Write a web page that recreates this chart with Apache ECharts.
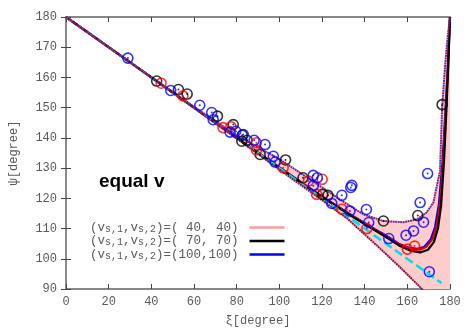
<!DOCTYPE html>
<html>
<head>
<meta charset="utf-8">
<script src="https://cdn.jsdelivr.net/npm/echarts@6/dist/echarts.min.js"></script>
<style>
  html, body { margin: 0; padding: 0; background: #fff; }
  #chart { width: 474px; height: 332px; }
</style>
</head>
<body>
<div id="chart"></div>
<script>
// ---- data (xi, psi in degrees) ----
const straightLine = [[0, 180], [176, 92]];

const curve40 = [[0, 180], [40, 160], [80, 140], [100, 130.2], [120, 120.5], [135, 113.8], [145, 109.5],
  [150, 107.5], [156.5, 104.6], [161.5, 103.3], [166, 103], [169, 104], [171.8, 106.5], [173.8, 111],
  [175.4, 118.5], [176.9, 133], [177.9, 147], [179.1, 164], [180, 180]];
const curve70 = [[0, 180], [40, 160], [80, 140], [100, 130.1], [120, 120.4], [135, 113.6], [145, 109.3],
  [150, 107.2], [156.6, 104.2], [161.3, 102.7], [166, 102.1], [169.7, 103], [172.5, 105.6], [174.4, 110.2],
  [175.8, 117.5], [177.2, 132.5], [178.1, 146], [179.1, 162.5], [180, 180]];
const curve100 = [[0, 180], [40, 160], [80, 140], [100, 130.2], [120, 120.6], [135, 113.9], [145, 109.7],
  [150, 107.7], [156, 105], [161, 103.6], [165, 103.3], [168, 104], [171, 106.5], [173, 110.5],
  [174.8, 118], [176.5, 132], [177.7, 147], [179, 164], [180, 180]];

const upperBound = [[0, 180], [40, 160.1], [60, 150.3], [80, 140.8], [100, 133], [115, 126], [128, 119.8],
  [139.4, 114.7], [148.8, 112.5], [158, 112.1], [164.4, 113], [169, 115.3], [172.2, 118.6], [175.3, 129],
  [176.3, 150], [177.7, 164], [179, 174], [180, 180]];
const lowerBound = [[0, 180], [40, 160], [80, 139.8], [100, 129.5], [120, 119.4], [132, 113.2], [146, 104.2],
  [156, 97.6], [166, 90.6], [180, 80]];

const points40 = [[44.6, 158.1], [54.8, 153.9], [73.6, 143.4], [77.3, 143.7], [89.2, 138.4], [89.3, 136],
  [101.8, 130.1], [113.6, 125.7], [117.5, 121.3], [120.1, 126.3], [129.3, 116.4], [141, 110], [160, 103.2],
  [163.4, 104.2]];
const points70 = [[42.5, 158.8], [52.7, 156], [56.8, 154.5], [71, 147.2], [78.4, 144.4], [82.6, 140.9],
  [82.4, 138.9], [84.9, 139.2], [91, 134.5], [102.9, 132.7], [111.1, 126.8], [120.3, 121.3], [122.8, 121],
  [148.8, 112.5], [164.9, 114.3], [176.3, 151]];
const points100 = [[29, 166.4], [49.1, 155.7], [62.7, 150.8], [68.3, 148.4], [69, 146], [76.9, 141.9],
  [79.6, 142.2], [83.1, 141.1], [88.2, 139.2], [93.3, 137.8], [97.2, 133.9], [98, 132], [115.9, 127.6],
  [117.8, 126.8], [115.9, 124.2], [124.6, 118.3], [129.3, 121], [133.5, 123.6], [134, 124.3], [133.1, 115.8],
  [140.8, 116.3], [141.9, 112], [151.3, 106.7], [159.4, 107.8], [162.9, 109.2], [166, 118.6], [167.6, 112.1],
  [169.5, 128.2], [170.3, 95.7]];

const legendLabels = { '40': '( 40, 40)', '70': '( 70, 70)', '100': '(100,100)' };

const MONO = '"Liberation Mono", "DejaVu Sans Mono", monospace';
const GREY = '#5a5a5a';

const chart = echarts.init(document.getElementById('chart'));

function dotted(name, data, color, offset, z) {
  return {
    name: name, type: 'line', data: data, symbol: 'none', z: z, silent: true,
    lineStyle: { color: color, width: 2, type: [2, 3], dashOffset: offset, cap: 'butt' }
  };
}

function solid(name, data, color, z) {
  return {
    name: name, type: 'line', data: data, symbol: 'none', z: z, silent: true,
    lineStyle: { color: color, width: 2.2 }
  };
}

function rings(name, data, color) {
  return {
    name: name, type: 'scatter', data: data, symbol: 'circle', symbolSize: 10, z: 6,
    itemStyle: { color: 'rgba(0,0,0,0)', borderColor: color, borderWidth: 1.6 }
  };
}

function centres(data, color) {
  return { type: 'scatter', data: data, symbolSize: 2, z: 7, silent: true, itemStyle: { color: color } };
}

const hiddenAxis = {
  axisLabel: { show: false }, splitLine: { show: false },
  axisLine: { lineStyle: { color: '#888', width: 2 } },
  axisTick: { inside: true, length: 5, lineStyle: { color: '#444' } }
};

const option = {
  animation: false,
  backgroundColor: '#fff',
  grid: { left: 66, right: 24, top: 17, bottom: 42 },
  xAxis: [
    {
      type: 'value', min: 0, max: 180, interval: 20,
      name: 'ξ[degree]', nameLocation: 'middle', nameGap: 26,
      nameTextStyle: { fontFamily: MONO, fontSize: 12, color: GREY },
      axisLine: { onZero: false, lineStyle: { color: '#888', width: 2 } },
      axisTick: { inside: true, length: 5, lineStyle: { color: '#444' } },
      axisLabel: { fontFamily: MONO, fontSize: 12, color: GREY, margin: 7 },
      splitLine: { show: false }
    },
    Object.assign({ type: 'value', min: 0, max: 180, interval: 20, position: 'top' }, hiddenAxis)
  ],
  yAxis: [
    {
      type: 'value', min: 90, max: 180, interval: 10,
      name: 'ψ[degree]', nameLocation: 'middle', nameGap: 46,
      nameTextStyle: { fontFamily: MONO, fontSize: 12, color: GREY },
      axisLine: { onZero: false, lineStyle: { color: '#111', width: 1.5 } },
      axisTick: { inside: true, length: 5, lineStyle: { color: '#444' } },
      axisLabel: { fontFamily: MONO, fontSize: 12, color: GREY, margin: 9 },
      splitLine: { show: false }
    },
    Object.assign({ type: 'value', min: 90, max: 180, interval: 10, position: 'right' }, hiddenAxis)
  ],
  legend: {
    orient: 'vertical', left: 90, top: 221, padding: 0, itemGap: 0.5,
    align: 'right', icon: 'rect', itemWidth: 35, itemHeight: 2.5,
    selectedMode: false,
    data: [
      { name: '40', itemStyle: { color: '#ff9c9c' } },
      { name: '70', itemStyle: { color: '#000' } },
      { name: '100', itemStyle: { color: '#0000ff' } }
    ],
    formatter: function (name) {
      return '(v{sub|s,1},v{sub|s,2})=' + legendLabels[name] + '{gap|}';
    },
    textStyle: {
      fontFamily: MONO, fontSize: 12.5, color: GREY, lineHeight: 13,
      rich: {
        sub: { fontFamily: MONO, fontSize: 10, color: GREY, lineHeight: 7, verticalAlign: 'bottom' },
        gap: { width: 6 }
      }
    }
  },
  graphic: [{
    type: 'text', left: 99, top: 172, silent: true,
    style: { text: 'equal v', font: 'bold 19px "Liberation Sans", Arial, sans-serif', fill: '#000' }
  }],
  series: [
    {
      type: 'custom', z: 1, silent: true, clip: true,
      data: [[0, 180]],
      renderItem: function (params, api) {
        const pts = upperBound.map(p => api.coord(p))
          .concat(lowerBound.slice().reverse().map(p => api.coord(p)));
        const cs = params.coordSys;
        return {
          type: 'polygon', shape: { points: pts }, style: { fill: '#ffcccc' },
          clipPath: { type: 'rect', shape: { x: cs.x, y: cs.y, width: cs.width, height: cs.height } }
        };
      }
    },
    solid('100', curve100, '#0000ff', 2),
    solid('40', curve40, '#e00000', 2.1),
    solid('70', curve70, '#000', 2.2),
    {
      type: 'line', data: straightLine, symbol: 'none', z: 3, silent: true,
      lineStyle: { color: '#00dde8', width: 2.5, type: [9, 4] }
    },
    dotted('ub1', upperBound, '#d8102a', 0, 4),
    dotted('ub2', upperBound, '#2a3ad8', 2.5, 4),
    dotted('lb1', lowerBound, '#c0102a', 0, 4),
    dotted('lb2', lowerBound, '#5a1a6a', 2.5, 4),
    rings('p70', points70, '#000'),
    rings('p40', points40, '#ff0000'),
    rings('p100', points100, '#0000ff'),
    centres(points70, '#000'),
    centres(points40, '#ff0000'),
    centres(points100, '#0000ff')
  ]
};

chart.setOption(option);
</script>
</body>
</html>
